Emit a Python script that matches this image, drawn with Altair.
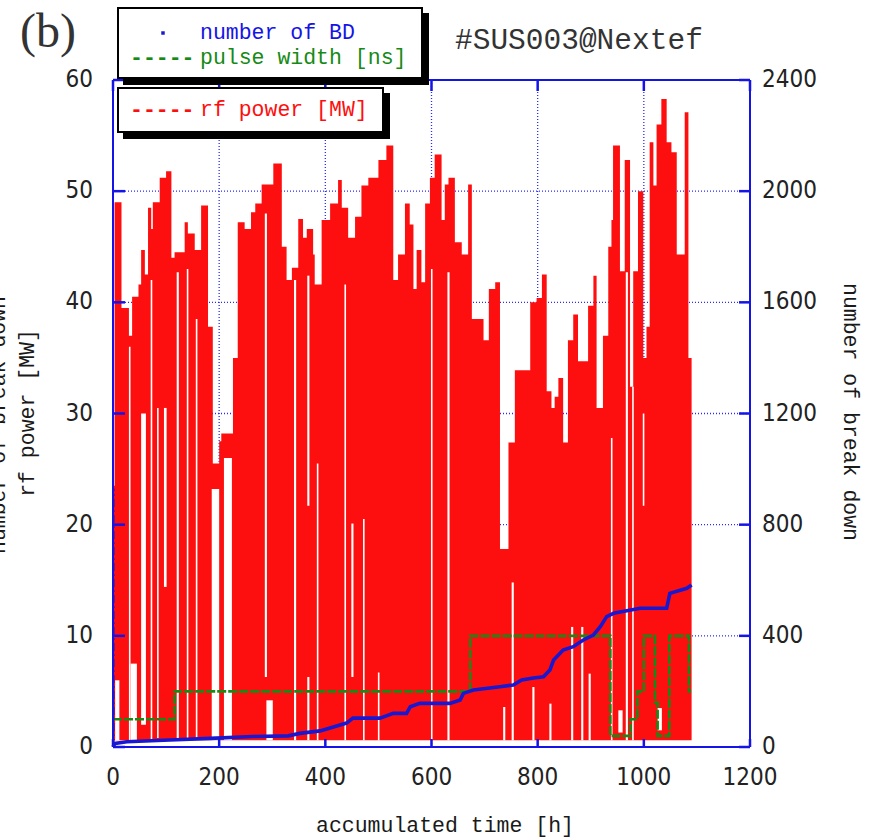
import altair as alt
import pandas as pd

# ---------------- data ----------------
# rf power envelope (upper edge of the dense red trace), step-after
rf_hours = [0, 3, 16, 30, 36, 48, 53, 60, 66, 72, 75, 88, 100, 110, 116, 135, 141, 154, 166, 179,
            188, 200, 204, 226, 235, 248, 260, 268, 280, 302, 318, 327, 337, 349, 358, 365, 377, 380,
            393, 409, 424, 431, 443, 456, 468, 481, 500, 515, 528, 537, 541, 550, 559, 566, 572, 581,
            588, 597, 606, 619, 625, 632, 644, 657, 669, 676, 698, 708, 720, 729, 745, 757, 786, 798,
            808, 817, 826, 832, 839, 848, 857, 867, 876, 895, 905, 911, 923, 933, 939, 942, 955, 964,
            974, 980, 989, 999, 1005, 1011, 1018, 1024, 1033, 1043, 1052, 1062, 1077, 1084, 1090]
rf_power = [23.5, 49, 39.5, 37, 40.5, 41.6, 44.7, 42.5, 48.5, 46.6, 49, 51.2, 51.8, 44, 44.5, 47.2,
            46.2, 44.7, 48.7, 37.8, 25.5, 27.5, 28.2, 35, 47.2, 46.6, 48.1, 48.9, 50.6, 52.5, 45, 42,
            43.1, 47.5, 45.8, 46.6, 44.3, 41.6, 47.4, 48.9, 51, 48.5, 45.8, 47.7, 50.5, 51.2, 52.8,
            54.1, 42, 44.3, 44.3, 48.9, 47, 41.2, 44.7, 41.8, 48.9, 51.2, 53.3, 47.4, 50.6, 51.2, 45.4,
            44.3, 50.6, 38.5, 36.6, 41.2, 41.8, 17.8, 27.4, 33.9, 40, 40.4, 42.5, 32, 30.5, 31.5, 33.2,
            27.4, 36.6, 38.9, 34.7, 39.7, 42.4, 30.5, 37, 45, 47.4, 54.1, 42.8, 52.8, 32.4, 42.8, 50,
            35, 37.8, 54.4, 50.5, 56, 58.3, 54.4, 53.5, 44.3, 57.1, 35, 35]
rf_floor = 0.6

# white gaps in the red trace (hours from / to, MW from / to)
gap_start = [4, 30, 33, 53, 71, 83, 96, 120, 139, 156, 186, 209, 286, 289, 341, 366, 366, 384, 436,
             449, 471, 499, 599, 630, 735, 751, 790, 822, 863, 882, 896, 938, 952, 966, 978, 998, 1026]
gap_end = [12, 33, 45, 62, 74, 86, 101, 124, 142, 159, 200, 224, 290, 301, 345, 370, 370, 387, 439,
           453, 474, 502, 602, 634, 739, 755, 794, 826, 867, 886, 900, 941, 960, 970, 981, 1001, 1034]
gap_low = [0.6, 0.6, 0.6, 2, 0.6, 0.8, 14.4, 0.8, 0.6, 0.6, 0.6, 0.6, 6.3, 0.6, 0.6, 21.7, 0.6, 0.6,
           0.6, 6.3, 0.6, 0.6, 0.6, 0.6, 0.6, 0.6, 0.6, 0.6, 0.6, 0.6, 0.6, 0.6, 1.3, 0.6, 0.6, 21.7, 1.5]
gap_high = [6, 36, 7.5, 30, 42, 30.5, 30.5, 42.7, 43, 38.5, 23.2, 26, 48, 4.2, 42, 42.4, 6.3, 25.5,
            41.6, 20.1, 20.5, 6.7, 43, 42.7, 3.6, 14.8, 5.4, 3.9, 10.8, 10.8, 6.6, 27.8, 3.3, 42.7,
            32.4, 30, 3.5]

# pulse width (left-axis units), step-after
pw_hours = [0, 116, 673, 937, 975, 988, 1000, 1021, 1026, 1048, 1085, 1089]
pw_values = [2.5, 5, 10, 1, 2.5, 5, 10, 4, 1, 10, 5, 5]

# cumulative number of break downs (right axis)
bd_hours = [0, 4, 26, 107, 183, 264, 330, 352, 390, 440, 452, 503, 528, 553, 560, 578, 635, 654,
            660, 679, 729, 754, 770, 792, 811, 823, 830, 848, 867, 886, 905, 918, 930, 943, 993,
            1043, 1049, 1081, 1090]
bd_counts = [0, 13, 19, 25, 31, 38, 40, 49, 58, 86, 104, 104, 121, 121, 145, 157, 157, 169, 193,
             205, 217, 223, 241, 248, 253, 277, 313, 349, 361, 385, 403, 433, 469, 481, 499, 499,
             553, 571, 583]
bd_spike_hours = [1, 1]
bd_spike_counts = [0, 930]

hour_ticks = [0, 200, 400, 600, 800, 1000, 1200]
mw_ticks = [0, 10, 20, 30, 40, 50, 60]
bd_ticks = [0, 400, 800, 1200, 1600, 2000, 2400]
hour_grid = [200, 400, 600, 800, 1000]
mw_grid = [10, 20, 30, 40, 50]

# ---------------- styling ----------------
W, H = 637, 667
RED = "#fe0f0f"
GREEN = "#168a16"
BLUE = "#1414e6"
BDBLUE = "#1818d0"
GRID = "#2a2aff"
TICKFONT = "Liberation Sans Narrow, DejaVu Sans Condensed, Liberation Mono"
TICKSIZE = 24
MONO = "Liberation Mono"
TXT = "#1a1a1a"

rf_df = pd.DataFrame({"hour": rf_hours, "mw": rf_power})
gap_df = pd.DataFrame({"h0": gap_start, "h1": gap_end, "lo": gap_low, "hi": gap_high})
pw_df = pd.DataFrame({"hour": pw_hours, "pw": pw_values})
bd_df = pd.DataFrame({"hour": bd_hours, "bd": bd_counts})
spike_df = pd.DataFrame({"hour": bd_spike_hours, "bd": bd_spike_counts})
hour_df = pd.DataFrame({"t": hour_ticks})
mw_df = pd.DataFrame({"t": mw_ticks})
bdt_df = pd.DataFrame({"t": bd_ticks})
hgrid_df = pd.DataFrame({"t": hour_grid})
mgrid_df = pd.DataFrame({"t": mw_grid})
one = pd.DataFrame({"k": [0]})

xscale = alt.Scale(domain=[0, 1200], nice=False, zero=False)
yscale = alt.Scale(domain=[0, 60], nice=False)

# gridlines (drawn beneath the data)
grid_h = alt.Chart(mgrid_df).mark_rule(color=GRID, strokeWidth=1.3, strokeDash=[1, 2]).encode(
    y=alt.Y("t:Q", scale=yscale, axis=None, title=None), x=alt.value(0), x2=alt.value(W))
grid_v = alt.Chart(hgrid_df).mark_rule(color=GRID, strokeWidth=1.3, strokeDash=[1, 2]).encode(
    x=alt.X("t:Q", scale=xscale, axis=None, title=None), y=alt.value(0), y2=alt.value(H))

red = alt.Chart(rf_df).mark_area(interpolate="step-after", color=RED, opacity=1).encode(
    x=alt.X("hour:Q", axis=None, title=None),
    y=alt.Y("mw:Q", axis=None, title=None),
    y2=alt.datum(rf_floor),
)

gaps = alt.Chart(gap_df).mark_rect(color="white").encode(
    x=alt.X("h0:Q", axis=None, title=None), x2="h1:Q",
    y=alt.Y("lo:Q", axis=None, title=None), y2="hi:Q",
)

green = alt.Chart(pw_df).mark_line(interpolate="step-after", color=GREEN, strokeWidth=2.6,
                                   strokeDash=[9, 2]).encode(
    x=alt.X("hour:Q", axis=None, title=None),
    y=alt.Y("pw:Q", axis=None, title=None),
)


def frame_rule(**enc):
    return alt.Chart(one).mark_rule(color=BLUE, strokeWidth=2).encode(**enc)


frame = [
    frame_rule(x=alt.value(0), y=alt.value(0), y2=alt.value(H)),
    frame_rule(x=alt.value(W), y=alt.value(0), y2=alt.value(H)),
    frame_rule(y=alt.value(0), x=alt.value(0), x2=alt.value(W)),
    frame_rule(y=alt.value(H), x=alt.value(0), x2=alt.value(W)),
]

tick_y = alt.Y("t:Q", axis=None, title=None)
tick_x = alt.X("t:Q", axis=None, title=None)
ticks = [
    alt.Chart(mw_df).mark_rule(color=BLUE, strokeWidth=2.5).encode(y=tick_y, x=alt.value(0), x2=alt.value(12)),
    alt.Chart(mw_df).mark_rule(color=BLUE, strokeWidth=2.5).encode(y=tick_y, x=alt.value(W - 11), x2=alt.value(W)),
    alt.Chart(hour_df).mark_rule(color=BLUE, strokeWidth=2.5).encode(x=tick_x, y=alt.value(H), y2=alt.value(H - 8)),
    alt.Chart(hour_df).mark_rule(color=BLUE, strokeWidth=2.5).encode(x=tick_x, y=alt.value(0), y2=alt.value(11)),
]

tick_labels = [
    alt.Chart(mw_df).mark_text(font=TICKFONT, fontSize=TICKSIZE, color="#222222", align="right",
                               baseline="middle").encode(
        y=tick_y, x=alt.value(-20), text=alt.Text("t:Q", format="d")),
    alt.Chart(hour_df).mark_text(font=TICKFONT, fontSize=TICKSIZE, color="#222222", align="center",
                                 baseline="middle").encode(
        x=tick_x, y=alt.value(H + 31), text=alt.Text("t:Q", format="d")),
]


def box(x0, x1, y0, y1, fill, stroke):
    return alt.Chart(one).mark_rect(fill=fill, stroke=stroke, strokeWidth=2).encode(
        x=alt.value(x0), x2=alt.value(x1), y=alt.value(y0), y2=alt.value(y1))


def label(txt, x, y, color=TXT, size=21.5, font=MONO, align="left", angle=0, weight="normal"):
    return alt.Chart(one).mark_text(text=txt, color=color, fontSize=size, font=font, align=align,
                                    baseline="middle", angle=angle, fontWeight=weight).encode(
        x=alt.value(x), y=alt.value(y))


legend = [
    box(11, 315, -66, 4, "black", "black"),
    box(5, 309, -72, -2, "white", "black"),
    box(11, 276, 14, 58, "black", "black"),
    box(5, 270, 8, 52, "white", "black"),
    alt.Chart(one).mark_square(color=BDBLUE, size=12, opacity=1).encode(x=alt.value(50), y=alt.value(-47)),
    label("number of BD", 87, -47, color=BLUE),
    label("-----", 17, -22, color=GREEN, weight="bold"),
    label("pulse width [ns]", 87, -22, color=GREEN),
    label("-----", 17, 30, color=RED, weight="bold"),
    label("rf power [MW]", 87, 30, color=RED),
]

texts = [
    label("(b)", -65, -47, color="#333333", size=48, font="Liberation Serif", align="center"),
    label("#SUS003@Nextef", 342, -40, color="#333333", size=29.5, font=MONO),
    label("accumulated time [h]", 332, 746, align="center"),
    label("number of break down", 737, 332, align="center", angle=90),
    label("rf power [MW]", -85, 333, align="center", angle=270),
    label("number of break down", -114, 345, align="center", angle=270),
]

mw_group = alt.layer(grid_h, grid_v, red, gaps, green, *frame, *ticks, *tick_labels, *legend, *texts)

bd_line = alt.Chart(bd_df).mark_line(color=BDBLUE, strokeWidth=3.6).encode(
    x=alt.X("hour:Q", axis=None, title=None),
    y=alt.Y("bd:Q", scale=alt.Scale(domain=[0, 2400], nice=False), axis=None, title=None),
)
bd_spike = alt.Chart(spike_df).mark_line(color=BDBLUE, strokeWidth=2, strokeDash=[8, 3, 2, 3]).encode(
    x=alt.X("hour:Q", axis=None, title=None),
    y=alt.Y("bd:Q", axis=None, title=None),
)
bd_labels = alt.Chart(bdt_df).mark_text(font=TICKFONT, fontSize=TICKSIZE, color="#222222",
                                        align="left", baseline="middle").encode(
    y=alt.Y("t:Q", axis=None, title=None), x=alt.value(W + 12), text=alt.Text("t:Q", format="d"))
bd_group = alt.layer(bd_spike, bd_line, bd_labels)

chart = alt.layer(mw_group, bd_group).resolve_scale(y="independent").properties(
    width=W, height=H,
    padding={"left": 113, "top": 80, "right": 875 - 113 - W, "bottom": 840 - 80 - H},
    autosize=alt.AutoSizeParams(type="none"),
    background="white",
).configure_view(strokeWidth=0)

chart.save("out.html", embed_options={"renderer": "svg", "actions": False})
